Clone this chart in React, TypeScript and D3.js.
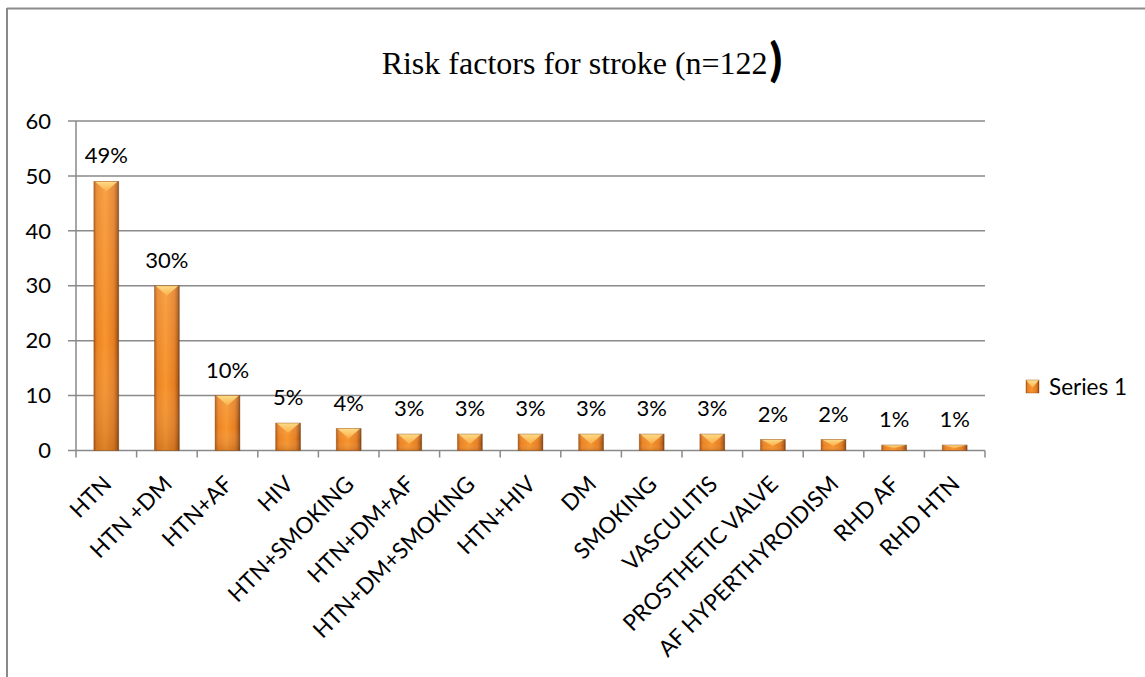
import React from "react";
import * as d3 from "d3";

const categories = [
  "HTN", "HTN +DM", "HTN+AF", "HIV", "HTN+SMOKING", "HTN+DM+AF", "HTN+DM+SMOKING",
  "HTN+HIV", "DM", "SMOKING", "VASCULITIS", "PROSTHETIC VALVE", "AF HYPERTHYROIDISM",
  "RHD AF", "RHD HTN",
];
const values = [49, 30, 10, 5, 4, 3, 3, 3, 3, 3, 3, 2, 2, 1, 1];
const dataLabels = ["49%", "30%", "10%", "5%", "4%", "3%", "3%", "3%", "3%", "3%", "3%", "2%", "2%", "1%", "1%"];
const yTicks = [0, 10, 20, 30, 40, 50, 60];
const seriesName = "Series 1";
const titleMain = "Risk factors for stroke (n=122";
const titleParen = ")";

const W = 1145;
const H = 677;
const plotLeft = 76;
const plotRight = 985;
const plotTop = 121;
const plotBottom = 450.5;
const gridColor = "#8a8a8a";
const sansFont = "Lato, 'Open Sans', sans-serif";

export default function App() {
  const x = d3
    .scaleBand<string>()
    .domain(categories)
    .range([plotLeft, plotRight])
    .paddingInner(0.59)
    .paddingOuter(0.295);
  const y = d3.scaleLinear().domain([0, 60]).range([plotBottom, plotTop]);
  const step = x.step();
  const bw = x.bandwidth();

  const bevelPath = (bx: number, by: number, w: number, h: number) => {
    const d = Math.min(10, h * 0.6);
    const p = d3.path();
    p.moveTo(bx, by);
    p.lineTo(bx + w, by);
    p.lineTo(bx + w / 2, by + d);
    p.closePath();
    return p.toString();
  };

  return (
    <svg
      width={W}
      height={H}
      style={{ position: "absolute", left: 0, top: 0, background: "#fff" }}
    >
      <defs>
        <linearGradient id="barH" x1="0" x2="1" y1="0" y2="0">
          <stop offset="0" stopColor="#b05812" />
          <stop offset="0.12" stopColor="#ea8224" />
          <stop offset="0.45" stopColor="#f7952d" />
          <stop offset="0.8" stopColor="#e57e22" />
          <stop offset="0.93" stopColor="#b25e18" />
          <stop offset="1" stopColor="#74380a" />
        </linearGradient>
        <linearGradient id="barV" x1="0" x2="0" y1="0" y2="1">
          <stop offset="0" stopColor="#ffffff" stopOpacity="0.12" />
          <stop offset="0.6" stopColor="#ffffff" stopOpacity="0" />
          <stop offset="1" stopColor="#7a3c0c" stopOpacity="0.22" />
        </linearGradient>
        <linearGradient id="bevel" x1="0" x2="0" y1="0" y2="1">
          <stop offset="0" stopColor="#ffe38f" />
          <stop offset="1" stopColor="#fbb04a" />
        </linearGradient>
      </defs>

      {/* outer chart border */}
      <line x1={7} x2={W} y1={8.5} y2={8.5} stroke={gridColor} strokeWidth={2} />
      <line x1={7} x2={7} y1={8} y2={H} stroke={gridColor} strokeWidth={2} />

      {/* title */}
      <text
        x={582}
        y={74}
        textAnchor="middle"
        fontFamily="'Liberation Serif', 'Times New Roman', serif"
        fontSize={32}
        fill="#000"
      >
        {titleMain}
        <tspan fontFamily={sansFont} fontSize={46} fontWeight={900} dx={2} dy={2}>{titleParen}</tspan>
      </text>

      {/* gridlines and y ticks */}
      {yTicks.map((t) => (
        <g key={t}>
          <line
            x1={plotLeft - 8}
            x2={plotRight}
            y1={y(t)}
            y2={y(t)}
            stroke={gridColor}
            strokeWidth={1.5}
          />
          <text
            x={51}
            y={y(t)}
            dy="0.35em"
            textAnchor="end"
            fontFamily={sansFont}
            fontSize={22}
            fill="#000"
          >
            {t}
          </text>
        </g>
      ))}

      {/* y axis */}
      <line x1={plotLeft} x2={plotLeft} y1={plotTop} y2={plotBottom} stroke={gridColor} strokeWidth={1.5} />

      {/* x ticks */}
      {d3.range(categories.length + 1).map((i) => {
        const tx = plotLeft + i * step;
        return (
          <line
            key={i}
            x1={tx}
            x2={tx}
            y1={plotBottom}
            y2={plotBottom + 7}
            stroke={gridColor}
            strokeWidth={1.5}
          />
        );
      })}

      {/* bars */}
      {categories.map((c, i) => {
        const bx = x(c) as number;
        const by = y(values[i]);
        const h = plotBottom - by;
        return (
          <g key={c}>
            <rect x={bx} y={by} width={bw} height={h} fill="url(#barH)" />
            <rect x={bx} y={by} width={bw} height={h} fill="url(#barV)" />
            <path d={bevelPath(bx + 1, by, bw - 2, h)} fill="url(#bevel)" opacity={0.9} />
            <rect
              x={bx}
              y={by}
              width={bw}
              height={h}
              fill="none"
              stroke="#8a4510"
              strokeOpacity={0.5}
              strokeWidth={0.8}
            />
            <text
              x={bx + bw / 2}
              y={by - 18}
              textAnchor="middle"
              fontFamily={sansFont}
              fontSize={22}
              fill="#000"
            >
              {dataLabels[i]}
            </text>
          </g>
        );
      })}

      {/* category labels */}
      {categories.map((c) => {
        const cx = (x(c) as number) + bw / 2;
        return (
          <text
            key={c}
            transform={`translate(${cx + 1},${480}) rotate(-45)`}
            dy="0.35em"
            textAnchor="end"
            fontFamily={sansFont}
            fontSize={22.5}
            fill="#000"
          >
            {c}
          </text>
        );
      })}

      {/* legend */}
      <g>
        <rect x={1026} y={380} width={13} height={13} fill="url(#barH)" />
        <path d={bevelPath(1026, 380, 13, 13)} fill="url(#bevel)" />
        <rect x={1026} y={380} width={13} height={13} fill="none" stroke="#8a4510" strokeOpacity={0.5} strokeWidth={0.8} />
        <text
          x={1049}
          y={387}
          dy="0.35em"
          fontFamily={sansFont}
          fontSize={22.5}
          fill="#000"
        >
          {seriesName}
        </text>
      </g>
    </svg>
  );
}
